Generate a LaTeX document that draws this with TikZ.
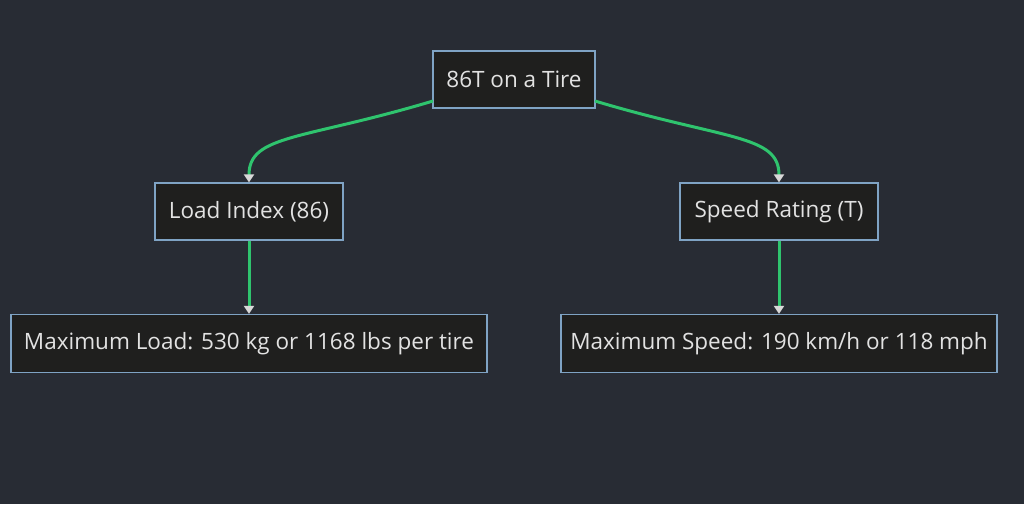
\documentclass[tikz,border=0pt]{standalone}
\usepackage{fontspec}
\setmainfont{Open Sans}
\usetikzlibrary{arrows.meta,positioning}
\definecolor{bgslate}{HTML}{282C34}
\definecolor{boxfill}{HTML}{1F1F1E}
\definecolor{boxline}{HTML}{7FA3C4}
\definecolor{flowgreen}{HTML}{2FC46E}
\definecolor{tipgray}{HTML}{D8D8D8}
\definecolor{labeltext}{HTML}{E2E2E2}

\begin{document}
\begin{tikzpicture}[x=1pt, y=-1pt,
        infobox/.style={draw=boxline, fill=boxfill, line width=1.2pt, text=labeltext,
            font=\fontsize{22.5}{24}\selectfont, minimum height=57pt, inner sep=0pt},
        flow/.style={draw=flowgreen, line width=3pt,
            -{Triangle[width=10pt,length=8pt,color=tipgray]}}]
        % Background
        \fill[bgslate] (0,0) rectangle (1024,504);

        % Boxes
        \node[infobox, minimum width=162pt] (tire) at (514,79.5) {86T on a Tire};
        \node[infobox, minimum width=188pt] (load) at (249,211.5) {Load Index (86)};
        \node[infobox, minimum width=198pt] (speed) at (779,211.5) {Speed Rating (T)};
        \node[infobox, minimum width=476pt, minimum height=58pt] (maxload) at (249,343.5) {Maximum Load: 530 kg or 1168 lbs per tire};
        \node[infobox, minimum width=436pt, minimum height=58pt] (maxspeed) at (779,343.5) {Maximum Speed: 190 km/h or 118 mph};

        % Connectors
        \coordinate (tireL) at (433,101);
        \coordinate (tireR) at (595,101);
        \draw[flow] (tireL) .. controls +(-130,39) and +(0,-48) .. (load.north);
        \draw[flow] (tireR) .. controls +(130,39) and +(0,-48) .. (speed.north);
        \draw[flow] (load) -- (maxload);
        \draw[flow] (speed) -- (maxspeed);
\end{tikzpicture}
\end{document}
